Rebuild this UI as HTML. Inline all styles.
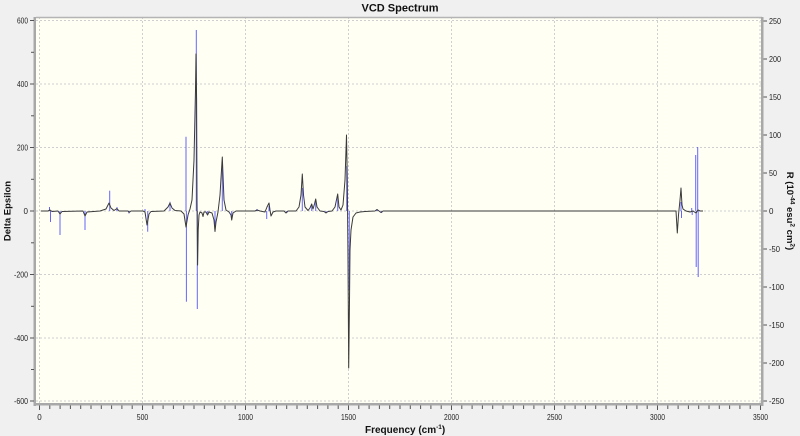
<!DOCTYPE html>
<html><head><meta charset="utf-8"><style>
html,body{margin:0;padding:0;background:#f0f0f0;}
svg{display:block;font-family:"Liberation Sans",sans-serif;}
</style></head><body>
<svg width="800" height="436" viewBox="0 0 800 436" xmlns="http://www.w3.org/2000/svg">
<rect x="0" y="0" width="800" height="436" fill="#f0f0f0"/>
<text x="400" y="11.5" text-anchor="middle" font-size="11" font-weight="bold" fill="#111">VCD Spectrum</text>
<rect x="36" y="17" width="725" height="386" fill="#fffff4"/>
<g stroke="#cfcfcf" stroke-width="1" stroke-dasharray="2,2" fill="none">
<line x1="36" y1="20.5" x2="761" y2="20.5"/>
<line x1="36" y1="84" x2="761" y2="84"/>
<line x1="36" y1="147.5" x2="761" y2="147.5"/>
<line x1="36" y1="211" x2="761" y2="211"/>
<line x1="36" y1="274.5" x2="761" y2="274.5"/>
<line x1="36" y1="338" x2="761" y2="338"/>
<line x1="36" y1="401" x2="761" y2="401"/>
<line x1="39.5" y1="17" x2="39.5" y2="403"/>
<line x1="142.5" y1="17" x2="142.5" y2="403"/>
<line x1="245.5" y1="17" x2="245.5" y2="403"/>
<line x1="348.5" y1="17" x2="348.5" y2="403"/>
<line x1="451.5" y1="17" x2="451.5" y2="403"/>
<line x1="554.5" y1="17" x2="554.5" y2="403"/>
<line x1="657.5" y1="17" x2="657.5" y2="403"/>
<line x1="760" y1="17" x2="760" y2="403"/>
</g>
<!-- sticks -->
<g stroke="#4a4aff" stroke-width="1" stroke-opacity="0.85" fill="none">
<line x1="49.5" y1="211" x2="49.5" y2="207"/>
<line x1="50.5" y1="211" x2="50.5" y2="222"/>
<line x1="60" y1="211" x2="60" y2="235"/>
<line x1="85" y1="211" x2="85" y2="230"/>
<line x1="109.7" y1="211" x2="109.7" y2="190.7"/>
<line x1="117" y1="211" x2="117" y2="207"/>
<line x1="129" y1="211" x2="129" y2="213.5"/>
<line x1="145" y1="211" x2="145" y2="209"/>
<line x1="147.7" y1="211" x2="147.7" y2="231.7"/>
<line x1="170" y1="211" x2="170" y2="201.7"/>
<line x1="186" y1="211" x2="186" y2="136.7"/>
<line x1="186.4" y1="211" x2="186.4" y2="301.7"/>
<line x1="196.3" y1="211" x2="196.3" y2="30"/>
<line x1="197.3" y1="211" x2="197.3" y2="309"/>
<line x1="207.7" y1="211" x2="207.7" y2="215"/>
<line x1="215" y1="211" x2="215" y2="228"/>
<line x1="222.3" y1="211" x2="222.3" y2="163"/>
<line x1="231.7" y1="211" x2="231.7" y2="219"/>
<line x1="257" y1="211" x2="257" y2="209"/>
<line x1="266.7" y1="211" x2="266.7" y2="219"/>
<line x1="269" y1="211" x2="269" y2="206"/>
<line x1="286.7" y1="211" x2="286.7" y2="213"/>
<line x1="302.3" y1="211" x2="302.3" y2="188"/>
<line x1="311.7" y1="211" x2="311.7" y2="205"/>
<line x1="315.7" y1="211" x2="315.7" y2="200"/>
<line x1="326" y1="211" x2="326" y2="213"/>
<line x1="337.7" y1="211" x2="337.7" y2="196"/>
<line x1="346.7" y1="211" x2="346.7" y2="166"/>
<line x1="349.3" y1="211" x2="349.3" y2="290"/>
<line x1="377" y1="211" x2="377" y2="209"/>
<line x1="381.7" y1="211" x2="381.7" y2="213"/>
<line x1="681" y1="211" x2="681" y2="202"/>
<line x1="681.5" y1="211" x2="681.5" y2="218"/>
<line x1="691.7" y1="211" x2="691.7" y2="208"/>
<line x1="692.2" y1="211" x2="692.2" y2="215"/>
<line x1="695.7" y1="211" x2="695.7" y2="155"/>
<line x1="696.2" y1="211" x2="696.2" y2="267"/>
<line x1="697.7" y1="211" x2="697.7" y2="147"/>
<line x1="698.2" y1="211" x2="698.2" y2="277"/>
</g>
<!-- curve -->
<polyline fill="none" stroke="#3a3a3a" stroke-width="1" stroke-linejoin="round" points="
41,211 48,211 50,210 52,211.5 58,211 60,214 62,211.5
83,211 85,216 87,212 100,211 106,209 109,203 111,208 114,210.5 117,208.5 119,211
128,211 129,212.5 131,211 143,211 145,212 147,225 149,214 151,211.5
164,211 168,207 170,203 172,208 175,210.5 181,211 184,214 186,227 188,215 190,209 192,200 194,160 195.5,90 196,54 196.6,100 197,200 197.6,265 198.2,230 199,215 200,212 202,213 203,216.5 204,212 206,212 207.5,215 209,212 212,213 214,220 215,231.5 216,222 218,212 220,195 221.5,170 222.3,157 223,175 224,200 226,210 229,212 231,215 231.7,220 233,213 236,211
255,211 257,210 260,211 265,212 267,207 269,203 270,210 271,216 273,212 276,211
284,211 286,213 288,211 296,211 299,207 301,195 302.3,174 303.5,195 305,207 308,210.5 310,208 311.7,204 313,209 314.5,204 315.7,199 317,207 320,211 324,211.5 326,213 328,211.5 332,211 335,207 337.7,194 339,207 341,210 343,205 345,180 346.5,135 347.3,180 348,260 348.7,368 349.5,300 350,250 351,230 353,217 356,213 360,212 365,211.5 375,211 377,209.5 379,211 381,212.5 383,211
660,211 676,211 677.3,233 678.5,215 680,200 681,188 682,205 683,209 686,211 690,212 693,211 696,213 698,210 700,211 703,211"/>
<!-- frame -->
<line x1="36" y1="17.5" x2="762" y2="17.5" stroke="#b4b4b4" stroke-width="1.5"/>
<rect x="33.5" y="17" width="2.5" height="389" fill="#a8a8a8"/>
<rect x="33.5" y="403" width="730" height="2.5" fill="#a8a8a8"/>
<rect x="761" y="17" width="2.5" height="389" fill="#a8a8a8"/>
<!-- left ticks -->
<g stroke="#555" stroke-width="1">
<line x1="30" y1="20.5" x2="34" y2="20.5"/><line x1="31" y1="52.3" x2="34" y2="52.3"/>
<line x1="30" y1="84" x2="34" y2="84"/><line x1="31" y1="115.8" x2="34" y2="115.8"/>
<line x1="30" y1="147.5" x2="34" y2="147.5"/><line x1="31" y1="179.3" x2="34" y2="179.3"/>
<line x1="30" y1="211" x2="34" y2="211"/><line x1="31" y1="242.8" x2="34" y2="242.8"/>
<line x1="30" y1="274.5" x2="34" y2="274.5"/><line x1="31" y1="306.3" x2="34" y2="306.3"/>
<line x1="30" y1="338" x2="34" y2="338"/><line x1="31" y1="369.5" x2="34" y2="369.5"/>
<line x1="30" y1="401" x2="34" y2="401"/>
</g>
<g font-size="8" fill="#222" text-anchor="end">
<text x="28" y="23.5" textLength="11" lengthAdjust="spacingAndGlyphs">600</text>
<text x="28" y="87" textLength="11" lengthAdjust="spacingAndGlyphs">400</text>
<text x="28" y="150.5" textLength="11" lengthAdjust="spacingAndGlyphs">200</text>
<text x="28" y="214">0</text>
<text x="28" y="277.5" textLength="14" lengthAdjust="spacingAndGlyphs">-200</text>
<text x="28" y="341" textLength="14" lengthAdjust="spacingAndGlyphs">-400</text>
<text x="28" y="404" textLength="14" lengthAdjust="spacingAndGlyphs">-600</text>
</g>
<!-- right ticks -->
<g stroke="#555" stroke-width="1">
<line x1="763.5" y1="21" x2="767" y2="21"/><line x1="763.5" y1="59" x2="767" y2="59"/>
<line x1="763.5" y1="97" x2="767" y2="97"/><line x1="763.5" y1="135" x2="767" y2="135"/>
<line x1="763.5" y1="173" x2="767" y2="173"/><line x1="763.5" y1="211" x2="767" y2="211"/>
<line x1="763.5" y1="249" x2="767" y2="249"/><line x1="763.5" y1="287" x2="767" y2="287"/>
<line x1="763.5" y1="325" x2="767" y2="325"/><line x1="763.5" y1="363" x2="767" y2="363"/>
<line x1="763.5" y1="401" x2="767" y2="401"/>
</g>
<g font-size="8" fill="#222">
<text x="769" y="24" textLength="12" lengthAdjust="spacingAndGlyphs">250</text>
<text x="769" y="62" textLength="12" lengthAdjust="spacingAndGlyphs">200</text>
<text x="769" y="100" textLength="12" lengthAdjust="spacingAndGlyphs">150</text>
<text x="769" y="138" textLength="12" lengthAdjust="spacingAndGlyphs">100</text>
<text x="769" y="176" textLength="8" lengthAdjust="spacingAndGlyphs">50</text>
<text x="769" y="214">0</text>
<text x="769" y="252" textLength="11" lengthAdjust="spacingAndGlyphs">-50</text>
<text x="769" y="290" textLength="15" lengthAdjust="spacingAndGlyphs">-100</text>
<text x="769" y="328" textLength="15" lengthAdjust="spacingAndGlyphs">-150</text>
<text x="769" y="366" textLength="15" lengthAdjust="spacingAndGlyphs">-200</text>
<text x="769" y="404" textLength="15" lengthAdjust="spacingAndGlyphs">-250</text>
</g>
<!-- bottom ticks -->
<g stroke="#555" stroke-width="1" id="bt">
<path d="M39.5 405.5v4.5 M49.8 405.5v3.5 M60.1 405.5v3.5 M70.4 405.5v3.5 M80.7 405.5v3.5 M91 405.5v3.5 M101.3 405.5v3.5 M111.6 405.5v3.5 M121.9 405.5v3.5 M132.2 405.5v3.5
M142.5 405.5v4.5 M152.8 405.5v3.5 M163.1 405.5v3.5 M173.4 405.5v3.5 M183.7 405.5v3.5 M194 405.5v3.5 M204.3 405.5v3.5 M214.6 405.5v3.5 M224.9 405.5v3.5 M235.2 405.5v3.5
M245.5 405.5v4.5 M255.8 405.5v3.5 M266.1 405.5v3.5 M276.4 405.5v3.5 M286.7 405.5v3.5 M297 405.5v3.5 M307.3 405.5v3.5 M317.6 405.5v3.5 M327.9 405.5v3.5 M338.2 405.5v3.5
M348.5 405.5v4.5 M358.8 405.5v3.5 M369.1 405.5v3.5 M379.4 405.5v3.5 M389.7 405.5v3.5 M400 405.5v3.5 M410.3 405.5v3.5 M420.6 405.5v3.5 M430.9 405.5v3.5 M441.2 405.5v3.5
M451.5 405.5v4.5 M461.8 405.5v3.5 M472.1 405.5v3.5 M482.4 405.5v3.5 M492.7 405.5v3.5 M503 405.5v3.5 M513.3 405.5v3.5 M523.6 405.5v3.5 M533.9 405.5v3.5 M544.2 405.5v3.5
M554.5 405.5v4.5 M564.8 405.5v3.5 M575.1 405.5v3.5 M585.4 405.5v3.5 M595.7 405.5v3.5 M606 405.5v3.5 M616.3 405.5v3.5 M626.6 405.5v3.5 M636.9 405.5v3.5 M647.2 405.5v3.5
M657.5 405.5v4.5 M667.8 405.5v3.5 M678.1 405.5v3.5 M688.4 405.5v3.5 M698.7 405.5v3.5 M709 405.5v3.5 M719.3 405.5v3.5 M729.6 405.5v3.5 M739.9 405.5v3.5 M750.2 405.5v3.5
M760.5 405.5v4.5"/>
</g>
<g font-size="8" fill="#222" text-anchor="middle">
<text x="39.5" y="420">0</text>
<text x="142.5" y="420" textLength="11.5" lengthAdjust="spacingAndGlyphs">500</text>
<text x="245.5" y="420" textLength="15" lengthAdjust="spacingAndGlyphs">1000</text>
<text x="348.5" y="420" textLength="15" lengthAdjust="spacingAndGlyphs">1500</text>
<text x="451.5" y="420" textLength="15" lengthAdjust="spacingAndGlyphs">2000</text>
<text x="554.5" y="420" textLength="15" lengthAdjust="spacingAndGlyphs">2500</text>
<text x="657.5" y="420" textLength="15" lengthAdjust="spacingAndGlyphs">3000</text>
<text x="760.5" y="420" textLength="15" lengthAdjust="spacingAndGlyphs">3500</text>
</g>
<!-- axis titles -->
<text x="365" y="433" font-size="10" font-weight="bold" fill="#111">Frequency (cm<tspan font-size="6.5" dy="-4">-1</tspan><tspan dy="4">)</tspan></text>
<text transform="translate(10.5,211) rotate(-90)" text-anchor="middle" font-size="9.5" font-weight="bold" fill="#111">Delta Epsilon</text>
<text transform="translate(787,211) rotate(90)" text-anchor="middle" font-size="9.5" font-weight="bold" fill="#111">R (10<tspan font-size="6.5" dy="-3.5">-44</tspan><tspan dy="3.5"> esu</tspan><tspan font-size="6.5" dy="-3.5">2</tspan><tspan dy="3.5"> cm</tspan><tspan font-size="6.5" dy="-3.5">2</tspan><tspan dy="3.5">)</tspan></text>
</svg>
</body></html>
